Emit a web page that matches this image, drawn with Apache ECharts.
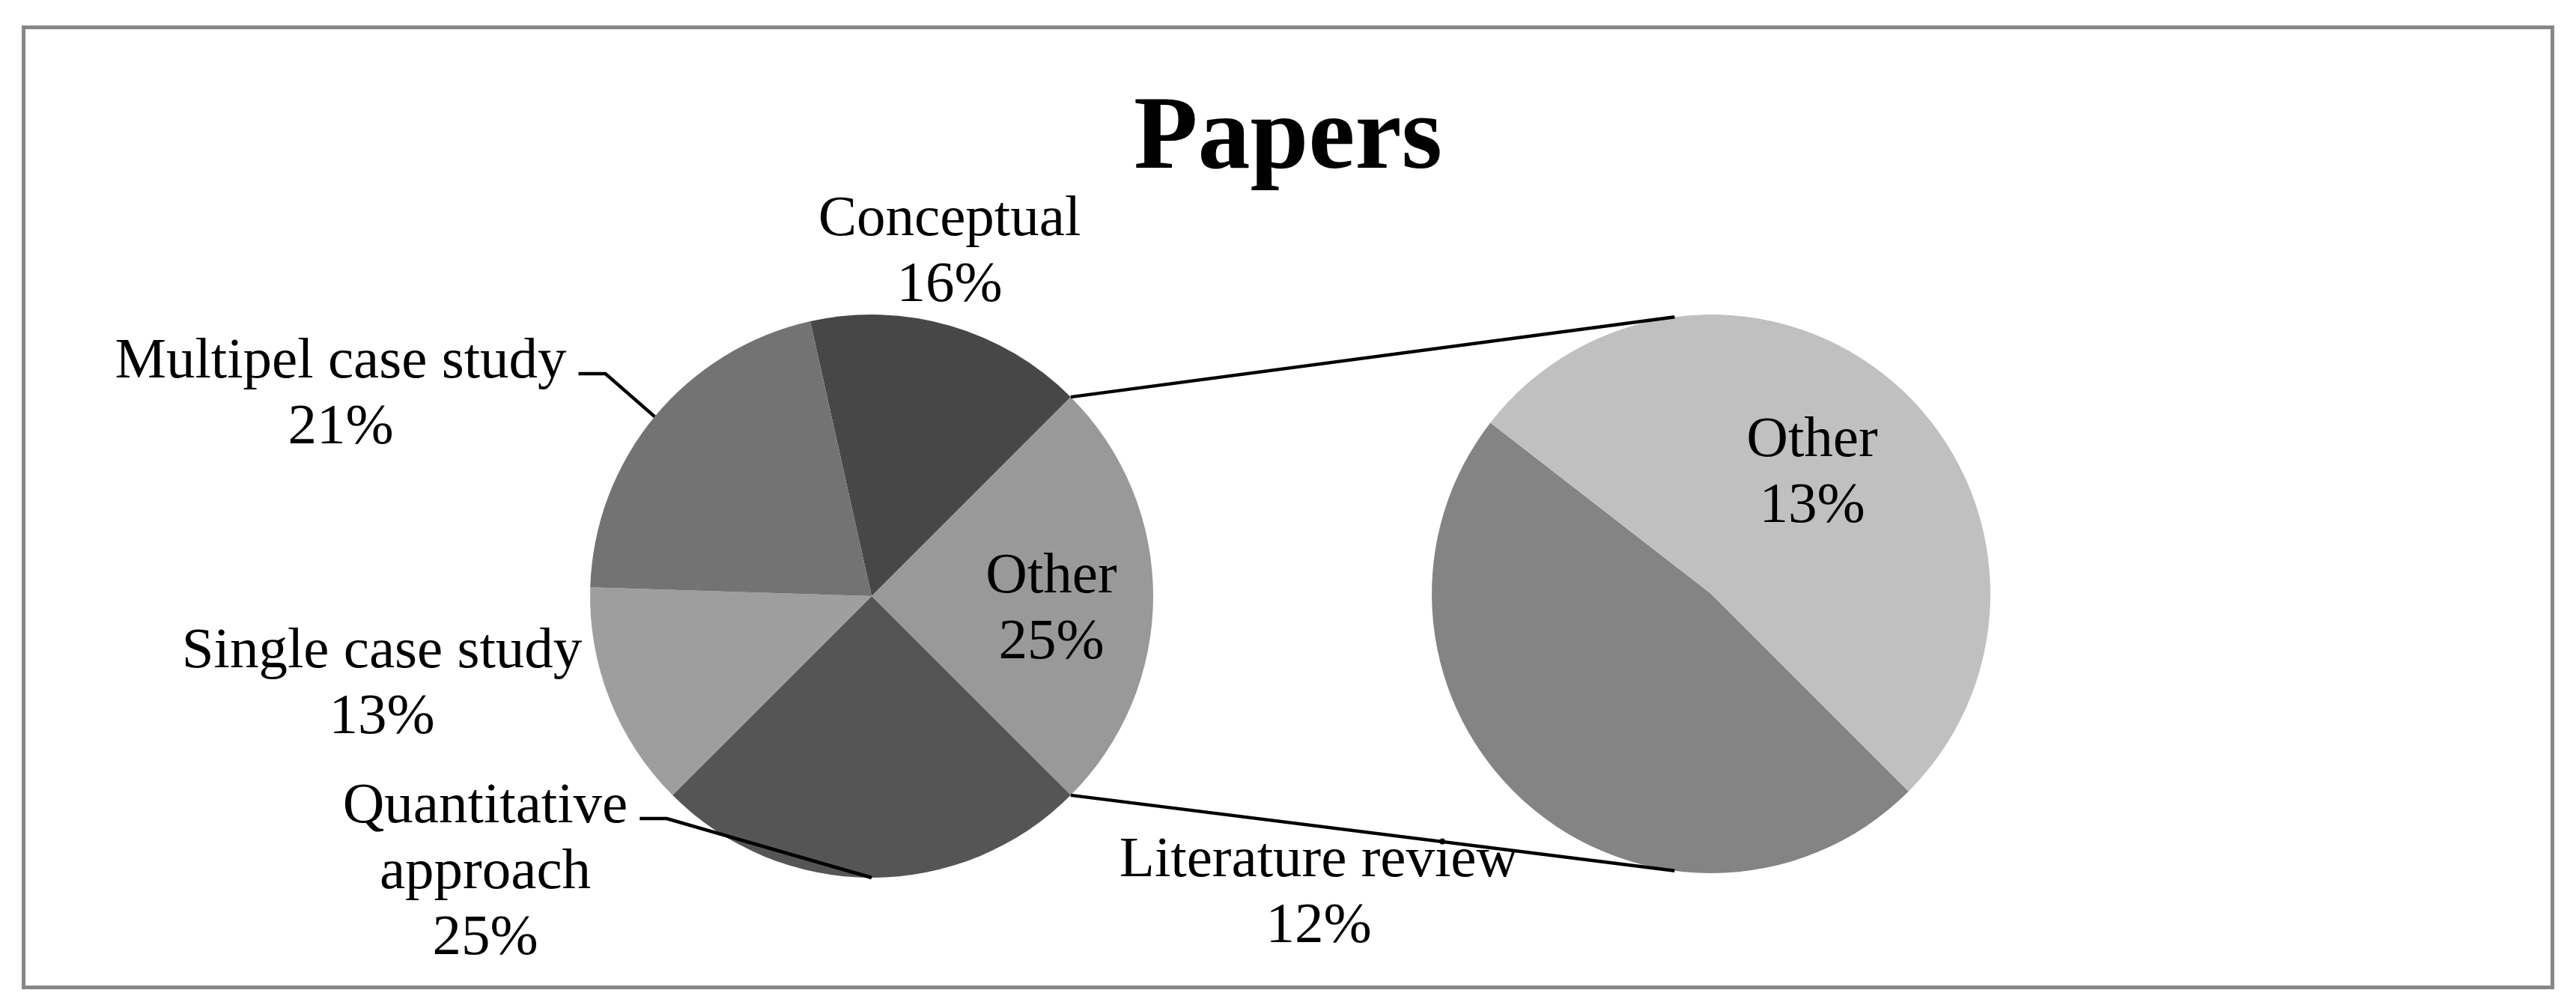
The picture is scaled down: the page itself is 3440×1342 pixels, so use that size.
<!DOCTYPE html>
<html>
<head>
<meta charset="utf-8">
<title>Papers</title>
<script src="https://cdn.jsdelivr.net/npm/echarts@6/dist/echarts.min.js"></script>
<style>
  html, body { margin: 0; padding: 0; background: #fff; }
  #chart { width: 3440px; height: 1342px; }
</style>
</head>
<body>
<div id="chart"></div>
<script>
// main pie categories, the combined "Other" slice is made from the detail pie
const mainNames = ['Conceptual', 'Quantitative approach', 'Single case study', 'Multipel case study']
const mainValues = [16, 25, 13, 21]
// categories split out into the second pie
const detailNames = ['Literature review', 'Other']
const detailValues = [12, 13]

const sum = arr => arr.reduce((a, b) => a + b, 0)
const otherValue = sum(detailValues)
const total = sum(mainValues) + otherValue

const FONT = "'Liberation Serif', 'Times New Roman', serif"
const LINE_H = 88
const deg = Math.PI / 180

const MAIN = { cx: 1164, cy: 796, r: 376 }
const SIDE = { cx: 2285, cy: 793, r: 373 }

const mainColors = {
  'Conceptual': '#474747',
  'Other': '#999999',
  'Quantitative approach': '#555555',
  'Single case study': '#9e9e9e',
  'Multipel case study': '#737373'
}
const detailColors = ['#848484', '#c0c0c0']

// centre of each label block
const mainLabelPos = {
  'Conceptual': [1268, 338],
  'Other': [1404, 815],
  'Quantitative approach': [648, 1166],
  'Single case study': [510, 915],
  'Multipel case study': [455, 528]
}
const detailLabelPos = {
  'Literature review': [1761, 1194],
  'Other': [2420, 633]
}
const leaderNames = ['Multipel case study', 'Quantitative approach']

// clockwise: Conceptual, Other, Quantitative, Single, Multipel
const mainData = [
  { name: mainNames[0], value: mainValues[0] },
  { name: 'Other', value: otherValue }
].concat(mainNames.slice(1).map((n, i) => ({ name: n, value: mainValues[i + 1] })))
mainData.forEach(d => {
  d.itemStyle = { color: mainColors[d.name] }
})

const detailData = detailNames.map((n, i) => ({
  name: n,
  value: detailValues[i],
  itemStyle: { color: detailColors[i] }
}))

// Excel puts the combined slice centred at 3 o'clock
const mainStart = 90 - 360 * (mainValues[0] + otherValue / 2) / total
const otherFrom = mainStart + 360 * mainValues[0] / total
const otherTo = otherFrom + 360 * otherValue / total

const pt = (c, theta) => [c.cx + c.r * Math.sin(theta * deg), c.cy - c.r * Math.cos(theta * deg)]
const p1 = pt(MAIN, otherFrom)
const p2 = pt(MAIN, otherTo)
const q1 = pt(SIDE, -7.5)
const q2 = pt(SIDE, 187.5)

// mid angle of every main slice, for the leader lines
const midAngle = {}
let acc = 0
mainData.forEach(d => {
  midAngle[d.name] = mainStart + 360 * (acc + d.value / 2) / total
  acc += d.value
})

const fmt = p => {
  const name = p.name.length > 20 ? p.name.replace(' ', '\n') : p.name
  return name + '\n' + Math.round(p.value / total * 100) + '%'
}

const leaders = []
function makeLayout(data, posMap, withLeaders) {
  return params => {
    const name = data[params.dataIndex].name
    const [x, y] = posMap[name]
    if (withLeaders && leaderNames.includes(name)) {
      const lines = Math.round(params.labelRect.height / LINE_H)
      const tickY = y - (lines - 1) * LINE_H / 2 + 15
      const tickX = x + params.labelRect.width / 2 + 16
      leaders.push([[tickX, tickY], [tickX + 36, tickY], pt(MAIN, midAngle[name])])
    }
    return { x, y, align: 'center', verticalAlign: 'middle' }
  }
}

const labelStyle = {
  show: true,
  position: 'outside',
  formatter: fmt,
  color: '#000',
  fontFamily: FONT,
  fontSize: 77,
  lineHeight: LINE_H,
  overflow: 'none'
}

const myChart = echarts.init(document.getElementById('chart'))
myChart.setOption({
  animation: false,
  backgroundColor: '#fff',
  title: {
    text: 'Papers',
    left: 'center',
    top: 118,
    padding: 0,
    textStyle: {
      fontFamily: FONT,
      fontSize: 140,
      fontWeight: 'bold',
      color: '#000'
    }
  },
  graphic: [
    {
      id: 'frame',
      type: 'rect',
      silent: true,
      shape: { x: 31.5, y: 36.5, width: 3377, height: 1282 },
      style: { fill: 'none', stroke: '#878787', lineWidth: 5 }
    },
    {
      id: 'link-top',
      type: 'line',
      silent: true,
      z: 100,
      shape: { x1: p1[0], y1: p1[1], x2: q1[0], y2: q1[1] },
      style: { stroke: '#000', lineWidth: 4.5 }
    },
    {
      id: 'link-bottom',
      type: 'line',
      silent: true,
      z: 100,
      shape: { x1: p2[0], y1: p2[1], x2: q2[0], y2: q2[1] },
      style: { stroke: '#000', lineWidth: 4.5 }
    }
  ],
  series: [
    {
      name: 'Papers',
      type: 'pie',
      center: [MAIN.cx, MAIN.cy],
      radius: MAIN.r,
      startAngle: 90 - mainStart,
      clockwise: true,
      avoidLabelOverlap: false,
      itemStyle: { borderWidth: 0 },
      emphasis: { disabled: true },
      label: labelStyle,
      labelLine: { show: false },
      labelLayout: makeLayout(mainData, mainLabelPos, true),
      data: mainData
    },
    {
      name: 'Other',
      type: 'pie',
      center: [SIDE.cx, SIDE.cy],
      radius: SIDE.r,
      startAngle: 90 - otherTo,
      clockwise: true,
      avoidLabelOverlap: false,
      itemStyle: { borderWidth: 0 },
      emphasis: { disabled: true },
      label: labelStyle,
      labelLine: { show: false },
      labelLayout: makeLayout(detailData, detailLabelPos, false),
      data: detailData
    }
  ]
})

// leader lines drawn on top of the slices, like the Excel original
myChart.setOption({
  graphic: leaders.slice(0, leaderNames.length).map((pts, i) => ({
    id: 'leader-' + i,
    type: 'polyline',
    silent: true,
    z: 100,
    shape: { points: pts },
    style: { fill: 'none', stroke: '#000', lineWidth: 4.5 }
  }))
})

window.onresize = function() {
  myChart.resize()
}
</script>
</body>
</html>
